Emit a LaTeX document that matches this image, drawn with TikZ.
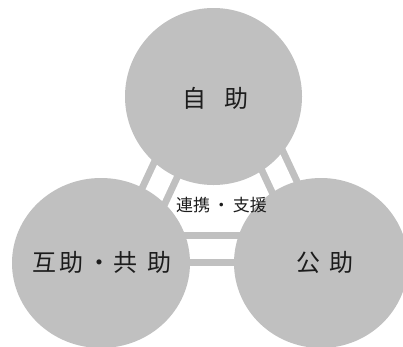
\documentclass[tikz,border=0pt]{standalone}
\usepackage{fontspec}
\newfontfamily\jp{Noto Sans CJK JP}
\definecolor{circgray}{RGB}{192,192,192}
\definecolor{txt}{RGB}{28,28,28}
\begin{document}
\begin{tikzpicture}[x=1pt,y=-1pt,
  circ/.style={fill=circgray,draw=none},
  link/.style={draw=circgray,line width=7pt,double=white,double distance=20pt},
  big/.style={font=\jp\fontsize{24}{28}\selectfont,text=txt,inner sep=0pt},
  small/.style={font=\jp\fontsize{17}{20}\selectfont,text=txt,inner sep=0pt}]
\useasboundingbox[fill=white] (0,0) rectangle (403,346);
% connector endpoints
\coordinate (l1) at (181,137);
\coordinate (l2) at (139,227);
\coordinate (r1) at (258,130);
\coordinate (r2) at (300,220);
\coordinate (b1) at (140,248.5);
\coordinate (b2) at (280,248.5);
\draw[link] (l1) -- (l2);
\draw[link] (r1) -- (r2);
\draw[link] (b1) -- (b2);
% circles
\fill[circ] (213.5,96.5) circle[radius=88.5];
\fill[circ] (101,263) ellipse[x radius=89,y radius=85];
\fill[circ] (321,263) ellipse[x radius=87,y radius=85];
% labels
\node[big] (self) at (215,98) {自\hspace{18pt}助};
\node[big] (mutual) at (102,262) {互\hspace{3.5pt}助\hspace{4.5pt}・\hspace{2pt}共\hspace{10pt}助};
\node[big] (public) at (324.5,262) {公\hspace{9pt}助};
\node[small] (coop) at (221.5,205) {連携\hspace{3pt}・\hspace{3pt}支援};
\end{tikzpicture}
\end{document}
